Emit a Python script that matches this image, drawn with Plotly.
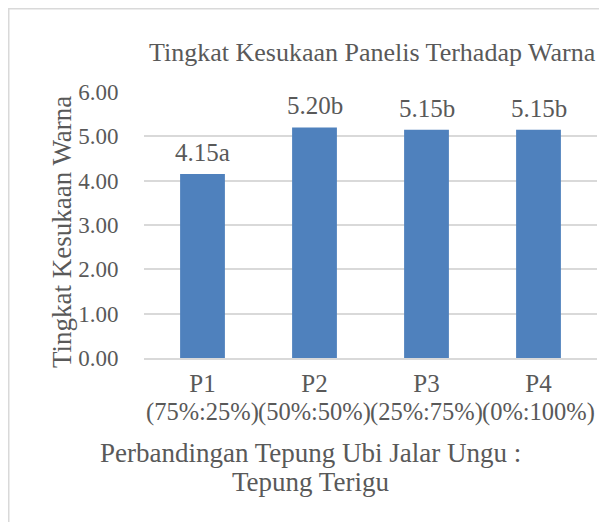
import plotly.graph_objects as go

tick_top = ["P1", "P2", "P3", "P4"]
tick_bottom = ["(75%:25%)", "(50%:50%)", "(25%:75%)", "(0%:100%)"]
values = [4.15, 5.20, 5.15, 5.15]
letters = ["a", "b", "b", "b"]
labels = [f"{v:.2f}{l}" for v, l in zip(values, letters)]
y_ticks = [0, 1, 2, 3, 4, 5, 6]
y_tick_text = [f"{t:.2f}" for t in y_ticks]

FONT = "Liberation Serif, Times New Roman, serif"
GREY = "#595959"

# page body has an 8px margin: reference pixel coords minus 8 give figure coords
OFF = 8
W, H = 607 - OFF, 522 - OFF
L, R, T, B = 144 - OFF, 597 - OFF, 92 - OFF, 358 - OFF
PW, PH = R - L, B - T

def px(x):
    return (x - OFF - L) / PW

def py(y):
    return (B - (y - OFF)) / PH

fig = go.Figure()
fig.add_trace(go.Bar(
    x=tick_top, y=values,
    marker=dict(color="#4f81bd", line=dict(width=0)),
))

annotations = [
    dict(text="Tingkat Kesukaan Panelis Terhadap Warna", xref="paper", yref="paper",
         x=px(372), y=py(52), xanchor="center", yanchor="middle",
         showarrow=False, font=dict(family=FONT, size=26, color=GREY)),
    dict(text="Tingkat Kesukaan Warna", xref="paper", yref="paper", textangle=-90,
         x=px(62), y=py(232), xanchor="center", yanchor="middle",
         showarrow=False, font=dict(family=FONT, size=27, color=GREY)),
    dict(text="Perbandingan Tepung Ubi Jalar Ungu :", xref="paper", yref="paper",
         x=px(310), y=py(453), xanchor="center", yanchor="middle",
         showarrow=False, font=dict(family=FONT, size=27, color=GREY)),
    dict(text="Tepung Terigu", xref="paper", yref="paper",
         x=px(310), y=py(482), xanchor="center", yanchor="middle",
         showarrow=False, font=dict(family=FONT, size=27, color=GREY)),
]
# value labels above bars
for cat, val, lab in zip(tick_top, values, labels):
    annotations.append(dict(text=lab, x=cat, y=val, xref="x", yref="y",
                            xanchor="center", yanchor="bottom", yshift=6,
                            showarrow=False, font=dict(family=FONT, size=25, color=GREY)))
# second line of category labels
for cat, sub in zip(tick_top, tick_bottom):
    annotations.append(dict(text=sub, x=cat, xref="x", yref="paper", y=py(412),
                            xanchor="center", yanchor="middle",
                            showarrow=False, font=dict(family=FONT, size=24.5, color=GREY)))

fig.update_layout(
    width=W, height=H,
    margin=dict(l=L, r=W - R, t=T, b=H - B),
    paper_bgcolor="white", plot_bgcolor="white",
    bargap=0.6, showlegend=False,
    font=dict(family=FONT, color=GREY, size=22),
    xaxis=dict(showgrid=False, showline=True, linecolor="#d9d9d9", linewidth=2,
               automargin=False, tickangle=0,
               tickfont=dict(family=FONT, size=25, color=GREY),
               ticks="outside", ticklen=2, tickcolor="rgba(0,0,0,0)"),
    yaxis=dict(range=[0, 6], tickvals=y_ticks, ticktext=y_tick_text,
               automargin=False,
               showgrid=True, gridcolor="#d9d9d9", gridwidth=1.5, zeroline=False,
               tickfont=dict(family=FONT, size=23, color=GREY),
               ticks="outside", ticklen=20, tickcolor="rgba(0,0,0,0)"),
    shapes=[dict(type="rect", xref="paper", yref="paper",
                 x0=px(8.5), x1=px(620), y0=py(540), y1=py(8.5),
                 line=dict(color="#d9d9d9", width=2), fillcolor="rgba(0,0,0,0)", layer="below")],
    annotations=annotations,
)

fig.write_html("out.html")
